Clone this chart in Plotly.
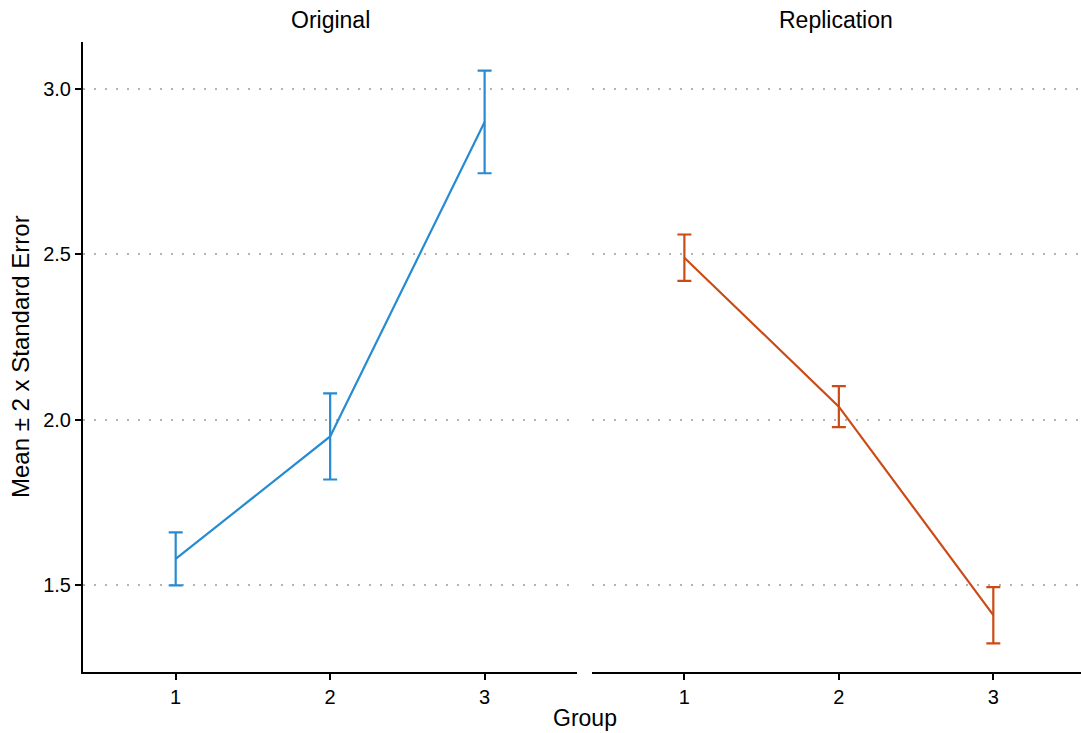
import plotly.graph_objects as go

# Group means and 2 x standard error, by study
groups = [1, 2, 3]
original_mean = [1.58, 1.95, 2.90]
original_err = [0.08, 0.13, 0.155]
replication_mean = [2.49, 2.04, 1.41]
replication_err = [0.07, 0.062, 0.085]

panel_titles = ["Original", "Replication"]
y_tickvals = [1.5, 2.0, 2.5, 3.0]
y_ticktext = ["1.5", "2.0", "2.5", "3.0"]

BLUE = "#268bd2"
ORANGE = "#cb4b16"
FONT = "Liberation Sans, Arial, sans-serif"

W, H = 1081, 733
ML, MR, MT, MB = 83, 0, 42, 61
plot_w = W - ML - MR
plot_h = H - MT - MB

# panel extents in pixels (second panel runs off the right edge)
p1_left, p1_right = 83.0, 577.3
p2_left = 591.7
d1 = [(p1_left - ML) / plot_w, (p1_right - ML) / plot_w]
d2 = [(p2_left - ML) / plot_w, 1.0]
px_per_unit = (p1_right - p1_left) / 3.2
x2_end = 0.4 + (W - p2_left) / px_per_unit

# shared y range with 5% padding around the error bars
lo = min(min(m - e for m, e in zip(original_mean, original_err)),
         min(m - e for m, e in zip(replication_mean, replication_err)))
hi = max(max(m + e for m, e in zip(original_mean, original_err)),
         max(m + e for m, e in zip(replication_mean, replication_err)))
pad = (hi - lo) * 0.05
y_range = [lo - pad, hi + pad]

fig = go.Figure()

fig.add_trace(go.Scatter(
    x=groups, y=original_mean, mode="lines",
    line=dict(color=BLUE, width=2.2),
    error_y=dict(type="data", array=original_err, symmetric=True,
                 color=BLUE, thickness=2.2, width=7),
    xaxis="x", yaxis="y", showlegend=False, hoverinfo="x+y"))

fig.add_trace(go.Scatter(
    x=groups, y=replication_mean, mode="lines",
    line=dict(color=ORANGE, width=2.2),
    error_y=dict(type="data", array=replication_err, symmetric=True,
                 color=ORANGE, thickness=2.2, width=7),
    xaxis="x2", yaxis="y2", showlegend=False, hoverinfo="x+y"))

tick_font = dict(family=FONT, size=20, color="#000000")
grid = dict(showgrid=True, gridcolor="#b4b4b4", gridwidth=2, griddash="2px,9px")

xaxis_common = dict(
    tickvals=groups, ticktext=[str(g) for g in groups],
    showline=True, linecolor="#000000", linewidth=2,
    ticks="outside", ticklen=6, tickwidth=2, tickcolor="#000000",
    tickfont=tick_font, showgrid=False, zeroline=False, fixedrange=True,
)

fig.update_layout(
    width=W, height=H,
    margin=dict(l=ML, r=MR, t=MT, b=MB),
    paper_bgcolor="white", plot_bgcolor="white",
    font=dict(family=FONT, color="#000000"),
    xaxis=dict(domain=d1, range=[0.4, 3.6], anchor="y", **xaxis_common),
    xaxis2=dict(domain=d2, range=[0.4, x2_end], anchor="y2", **xaxis_common),
    yaxis=dict(
        domain=[0, 1], range=y_range, anchor="x",
        tickvals=y_tickvals, ticktext=y_ticktext,
        showline=True, linecolor="#000000", linewidth=2,
        ticks="outside", ticklen=6, tickwidth=2, tickcolor="#000000",
        tickfont=tick_font, zeroline=False, fixedrange=True, **grid,
    ),
    yaxis2=dict(
        domain=[0, 1], range=y_range, anchor="x2", matches="y",
        tickvals=y_tickvals, showticklabels=False, ticks="",
        showline=False, zeroline=False, fixedrange=True, **grid,
    ),
)

title_font = dict(family=FONT, size=23, color="#000000")

for i, t in enumerate(panel_titles):
    xref = "x domain" if i == 0 else "x2 domain"
    fig.add_annotation(text=t, xref=xref, yref="paper", x=0.5,
                       y=1 + 22 / plot_h, xanchor="center", yanchor="middle",
                       showarrow=False, font=title_font)

fig.add_annotation(text="Group", xref="paper", yref="paper",
                   x=(585 - ML) / plot_w, y=-46 / plot_h,
                   xanchor="center", yanchor="middle",
                   showarrow=False, font=title_font)

fig.add_annotation(text="Mean ± 2 x Standard Error", xref="paper", yref="paper",
                   x=(20 - ML) / plot_w, y=0.5, textangle=-90,
                   xanchor="center", yanchor="middle",
                   showarrow=False, font=dict(family=FONT, size=24, color="#000000"))

fig.write_html("out.html")
